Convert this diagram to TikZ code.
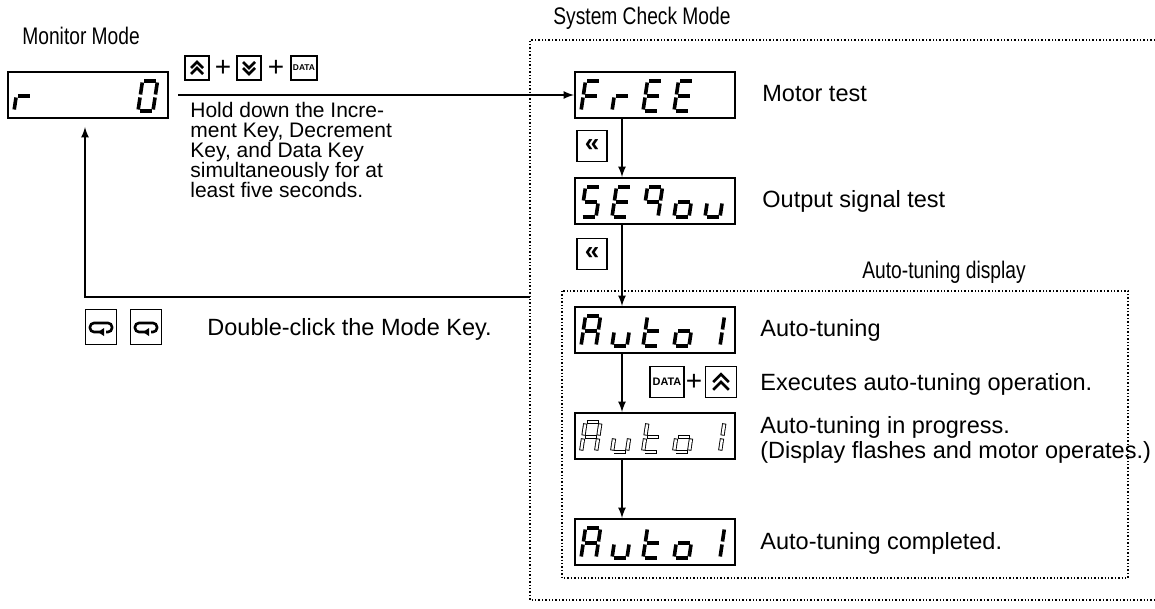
\documentclass[tikz,border=0pt]{standalone}
\usepackage{fontspec}
\setmainfont{Liberation Sans}
\newfontfamily\narrowsans[FakeStretch=0.8]{Liberation Sans}

\def\sega{(1.5,-30)--(13.5,-30)}
\def\segb{(15,-28.5)--(15,-16.5)}
\def\segc{(15,-13.5)--(15,-1.5)}
\def\segd{(1.5,0)--(13.5,0)}
\def\sege{(0,-1.5)--(0,-13.5)}
\def\segf{(0,-16.5)--(0,-28.5)}
\def\segg{(1.5,-15)--(13.5,-15)}

\newcommand{\segdigit}[4][segon]{%
  \begin{scope}[shift={(#2.south west)}, shift={(7+31*#3,-8)}, xslant=0.15]
    \foreach \s in {#4} {\draw[#1] \csname seg\s\endcsname;}
  \end{scope}}

\newcommand{\autoword}[2][segon]{%
  \segdigit[#1]{#2}{0}{a,b,c,e,f,g}
  \segdigit[#1]{#2}{1}{c,d,e}
  \segdigit[#1]{#2}{2}{d,e,f,g}
  \segdigit[#1]{#2}{3}{c,d,e,g}
  \segdigit[#1]{#2}{4}{b,c}}

\tikzset{
  lcd/.style={draw, line width=1pt, minimum width=80pt, minimum height=23pt},
  segon/.style={line width=1.8pt},
  segoff/.style={line width=2.1pt,
    postaction={draw=white, line width=1.2pt, shorten <=0.45pt, shorten >=0.45pt}},
  keybox/.style={draw, line width=0.8pt, transform shape},
  glyph/.style={line width=1.3pt},
  lbl/.style={anchor=west, align=left, font=\fontsize{11.75}{12.5}\selectfont},
  note/.style={anchor=north west, align=left, font=\fontsize{10.5}{10}\selectfont},
  modetitle/.style={anchor=west, font=\narrowsans\fontsize{12}{14}\selectfont},
  plus/.style={font=\fontsize{14}{14}\selectfont},
  arr/.style={line width=0.8pt, -latex},
  dotbox/.style={densely dotted, line width=0.7pt},
  upkey/.pic={\node[keybox, minimum width=12pt, minimum height=12pt] (-k) {};
    \draw[glyph] (-6,0) -- (0,-6) -- (6,0) (-6,6) -- (0,0) -- (6,6);},
  downkey/.pic={\node[keybox, minimum width=12pt, minimum height=12pt] (-k) {};
    \draw[glyph] (-6,0) -- (0,6) -- (6,0) (-6,-6) -- (0,0) -- (6,-6);},
  datakey/.pic={\node[keybox, minimum width=13pt, minimum height=12pt,
    font=\fontsize{4.2}{4.2}\selectfont\bfseries] (-k) {DATA};},
  modekey/.pic={\node[keybox, minimum width=15.5pt, minimum height=17.5pt] (-k) {};
    \draw[glyph, rounded corners=2pt] (-1,5) -- (-11,5) -- (-11,-4) -- (11,-4) -- (11,5) -- (5,5);
    \fill (-3,5) -- (3,1) -- (3,9) -- cycle;},
  shiftkey/.style={keybox, minimum width=15pt, minimum height=15.5pt,
    font=\fontsize{13}{13}\selectfont\bfseries}
}

\begin{document}
\begin{tikzpicture}[x=0.5pt, y=-0.5pt, every node/.style={inner sep=0pt}]
\useasboundingbox (0,0) rectangle (1155,609);

\node[modetitle] (tmon) at (22,36) {Monitor Mode};
\node[modetitle] (tsys) at (553,18) {System Check Mode};
\node[modetitle] (tauto) at (862,272) {Auto-tuning display};

\draw[dotbox] (1155,40) -- (530,40) -- (530,600) -- (1155,600);
\draw[dotbox] (562,291) rectangle (1128,578);

\node[lcd] (dmon) at (88,95) {};
\node[lcd] (dfree) at (655,95) {};
\node[lcd] (dsel) at (655,201) {};
\node[lcd] (dat1) at (655,330) {};
\node[lcd] (dat2) at (655,436) {};
\node[lcd] (dat3) at (655,542) {};

\segdigit{dmon}{0}{e,g}
\segdigit{dmon}{4}{a,b,c,d,e,f}
\segdigit{dfree}{0}{a,e,f,g}
\segdigit{dfree}{1}{e,g}
\segdigit{dfree}{2}{a,d,e,f,g}
\segdigit{dfree}{3}{a,d,e,f,g}
\segdigit{dsel}{0}{a,c,d,f,g}
\segdigit{dsel}{1}{a,d,e,f,g}
\segdigit{dsel}{2}{a,b,c,f,g}
\segdigit{dsel}{3}{c,d,e,g}
\segdigit{dsel}{4}{c,d,e}
\autoword{dat1}
\autoword[segoff]{dat2}
\autoword{dat3}

\pic (kup) at (197,68) {upkey};
\node[plus] (p1) at (223,68) {+};
\pic (kdown) at (249,68) {downkey};
\node[plus] (p2) at (276,68) {+};
\pic (kdata) at (304,68) {datakey};
\node[note] (thold) at (190,102) {Hold down the Incre-\\ment Key, Decrement\\Key, and Data Key\\simultaneously for at\\least five seconds.};

\node[shiftkey] (ks1) at (592,146) {«};
\node[shiftkey] (ks2) at (592,254) {«};
\pic[scale=1.3] (kdata2) at (667,382) {datakey};
\node[plus] (p3) at (694,382) {+};
\pic[scale=1.3] (kup2) at (721,382) {upkey};

\pic (kmode1) at (101,327) {modekey};
\pic (kmode2) at (146,327) {modekey};
\node[lbl] (tmode) at (207,329) {Double-click the Mode Key.};

\node[lbl] (lfree) at (762,94) {Motor test};
\node[lbl] (lsel) at (762,201) {Output signal test};
\node[lbl] (lat1) at (760,330) {Auto-tuning};
\node[lbl] (lexe) at (760,384) {Executes auto-tuning operation.};
\node[lbl] (lat2) at (760,440) {Auto-tuning in progress.\\(Display flashes and motor operates.)};
\node[lbl] (lat3) at (760,543) {Auto-tuning completed.};

\coordinate (col) at (622,0);
\coordinate (ret) at (530,297);
\coordinate (back) at (85,0);
\draw[arr, shorten <=4.5pt] (dmon.east) -- (dfree.west);
\draw[arr] (dfree.south -| col) -- (dsel.north -| col);
\draw[arr] (dsel.south -| col) -- (dat1.north -| col);
\draw[arr] (dat1.south -| col) -- (dat2.north -| col);
\draw[arr] (dat2.south -| col) -- (dat3.north -| col);
\draw[arr, shorten >=4pt] (ret) -| (dmon.south -| back);
\end{tikzpicture}
\end{document}
